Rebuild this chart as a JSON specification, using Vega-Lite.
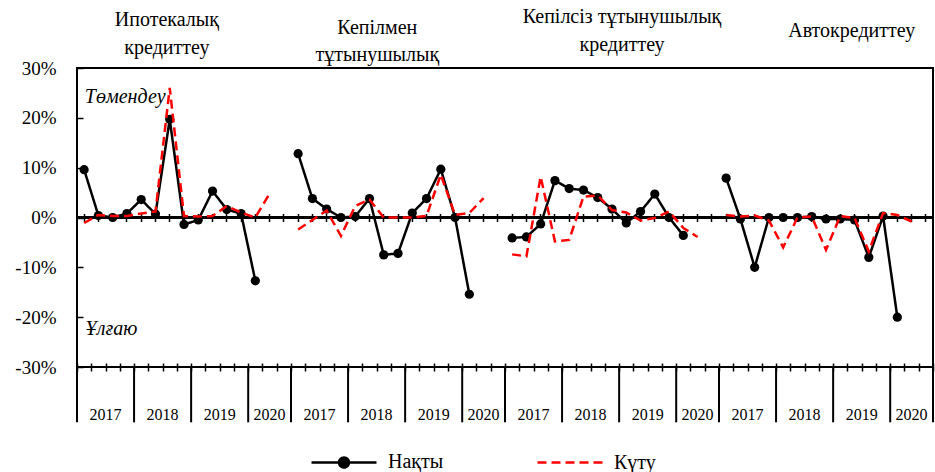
{
  "$schema": "https://vega.github.io/schema/vega-lite/v6.json",
  "width": 856,
  "height": 299,
  "autosize": {"type": "none"},
  "padding": {"left": 77, "top": 68, "right": 2, "bottom": 105},
  "background": "white",
  "config": {
    "view": {"stroke": "black", "strokeWidth": 2},
    "font": "Liberation Serif",
    "axis": {"grid": false, "labelFont": "Liberation Serif", "labelColor": "black", "tickColor": "black", "domainColor": "black"},
    "text": {"font": "Liberation Serif", "color": "black"}
  },
  "data": {"values": [
    {"g":"A","k":"A-2017Q1","s":"Нақты","v":9.6},{"g":"A","k":"A-2017Q2","s":"Нақты","v":0.4},{"g":"A","k":"A-2017Q3","s":"Нақты","v":0.0},{"g":"A","k":"A-2017Q4","s":"Нақты","v":0.8},
    {"g":"A","k":"A-2018Q1","s":"Нақты","v":3.6},{"g":"A","k":"A-2018Q2","s":"Нақты","v":0.7},{"g":"A","k":"A-2018Q3","s":"Нақты","v":19.7},{"g":"A","k":"A-2018Q4","s":"Нақты","v":-1.4},
    {"g":"A","k":"A-2019Q1","s":"Нақты","v":-0.5},{"g":"A","k":"A-2019Q2","s":"Нақты","v":5.3},{"g":"A","k":"A-2019Q3","s":"Нақты","v":1.6},{"g":"A","k":"A-2019Q4","s":"Нақты","v":0.8},
    {"g":"A","k":"A-2020Q1","s":"Нақты","v":-12.7},
    {"g":"A","k":"A-2017Q1","s":"Күту","v":-1.1},{"g":"A","k":"A-2017Q2","s":"Күту","v":0.5},{"g":"A","k":"A-2017Q3","s":"Күту","v":0.3},{"g":"A","k":"A-2017Q4","s":"Күту","v":0.3},
    {"g":"A","k":"A-2018Q1","s":"Күту","v":0.8},{"g":"A","k":"A-2018Q2","s":"Күту","v":1.2},{"g":"A","k":"A-2018Q3","s":"Күту","v":26.0},{"g":"A","k":"A-2018Q4","s":"Күту","v":0.3},
    {"g":"A","k":"A-2019Q1","s":"Күту","v":0.2},{"g":"A","k":"A-2019Q2","s":"Күту","v":0.3},{"g":"A","k":"A-2019Q3","s":"Күту","v":2.3},{"g":"A","k":"A-2019Q4","s":"Күту","v":1.0},
    {"g":"A","k":"A-2020Q1","s":"Күту","v":0.0},{"g":"A","k":"A-2020Q2","s":"Күту","v":4.8},
    {"g":"B","k":"B-2017Q1","s":"Нақты","v":12.8},{"g":"B","k":"B-2017Q2","s":"Нақты","v":3.8},{"g":"B","k":"B-2017Q3","s":"Нақты","v":1.7},{"g":"B","k":"B-2017Q4","s":"Нақты","v":0.0},
    {"g":"B","k":"B-2018Q1","s":"Нақты","v":0.2},{"g":"B","k":"B-2018Q2","s":"Нақты","v":3.8},{"g":"B","k":"B-2018Q3","s":"Нақты","v":-7.5},{"g":"B","k":"B-2018Q4","s":"Нақты","v":-7.2},
    {"g":"B","k":"B-2019Q1","s":"Нақты","v":0.9},{"g":"B","k":"B-2019Q2","s":"Нақты","v":3.8},{"g":"B","k":"B-2019Q3","s":"Нақты","v":9.7},{"g":"B","k":"B-2019Q4","s":"Нақты","v":0.0},
    {"g":"B","k":"B-2020Q1","s":"Нақты","v":-15.4},
    {"g":"B","k":"B-2017Q1","s":"Күту","v":-2.4},{"g":"B","k":"B-2017Q2","s":"Күту","v":-0.5},{"g":"B","k":"B-2017Q3","s":"Күту","v":1.4},{"g":"B","k":"B-2017Q4","s":"Күту","v":-3.7},
    {"g":"B","k":"B-2018Q1","s":"Күту","v":2.3},{"g":"B","k":"B-2018Q2","s":"Күту","v":3.6},{"g":"B","k":"B-2018Q3","s":"Күту","v":0.0},{"g":"B","k":"B-2018Q4","s":"Күту","v":0.0},
    {"g":"B","k":"B-2019Q1","s":"Күту","v":0.0},{"g":"B","k":"B-2019Q2","s":"Күту","v":0.3},{"g":"B","k":"B-2019Q3","s":"Күту","v":8.6},{"g":"B","k":"B-2019Q4","s":"Күту","v":0.5},
    {"g":"B","k":"B-2020Q1","s":"Күту","v":0.9},{"g":"B","k":"B-2020Q2","s":"Күту","v":3.9},
    {"g":"C","k":"C-2017Q1","s":"Нақты","v":-4.1},{"g":"C","k":"C-2017Q2","s":"Нақты","v":-3.9},{"g":"C","k":"C-2017Q3","s":"Нақты","v":-1.3},{"g":"C","k":"C-2017Q4","s":"Нақты","v":7.4},
    {"g":"C","k":"C-2018Q1","s":"Нақты","v":5.8},{"g":"C","k":"C-2018Q2","s":"Нақты","v":5.5},{"g":"C","k":"C-2018Q3","s":"Нақты","v":4.0},{"g":"C","k":"C-2018Q4","s":"Нақты","v":1.7},
    {"g":"C","k":"C-2019Q1","s":"Нақты","v":-1.1},{"g":"C","k":"C-2019Q2","s":"Нақты","v":1.2},{"g":"C","k":"C-2019Q3","s":"Нақты","v":4.7},{"g":"C","k":"C-2019Q4","s":"Нақты","v":0.0},
    {"g":"C","k":"C-2020Q1","s":"Нақты","v":-3.6},
    {"g":"C","k":"C-2017Q1","s":"Күту","v":-7.4},{"g":"C","k":"C-2017Q2","s":"Күту","v":-7.8},{"g":"C","k":"C-2017Q3","s":"Күту","v":8.2},{"g":"C","k":"C-2017Q4","s":"Күту","v":-4.8},
    {"g":"C","k":"C-2018Q1","s":"Күту","v":-4.5},{"g":"C","k":"C-2018Q2","s":"Күту","v":4.2},{"g":"C","k":"C-2018Q3","s":"Күту","v":4.4},{"g":"C","k":"C-2018Q4","s":"Күту","v":1.5},
    {"g":"C","k":"C-2019Q1","s":"Күту","v":1.0},{"g":"C","k":"C-2019Q2","s":"Күту","v":-0.6},{"g":"C","k":"C-2019Q3","s":"Күту","v":-0.1},{"g":"C","k":"C-2019Q4","s":"Күту","v":1.2},
    {"g":"C","k":"C-2020Q1","s":"Күту","v":-2.1},{"g":"C","k":"C-2020Q2","s":"Күту","v":-3.9},
    {"g":"D","k":"D-2017Q1","s":"Нақты","v":7.9},{"g":"D","k":"D-2017Q2","s":"Нақты","v":-0.3},{"g":"D","k":"D-2017Q3","s":"Нақты","v":-10.0},{"g":"D","k":"D-2017Q4","s":"Нақты","v":0.0},
    {"g":"D","k":"D-2018Q1","s":"Нақты","v":0.0},{"g":"D","k":"D-2018Q2","s":"Нақты","v":0.0},{"g":"D","k":"D-2018Q3","s":"Нақты","v":0.2},{"g":"D","k":"D-2018Q4","s":"Нақты","v":-0.3},
    {"g":"D","k":"D-2019Q1","s":"Нақты","v":-0.3},{"g":"D","k":"D-2019Q2","s":"Нақты","v":-0.5},{"g":"D","k":"D-2019Q3","s":"Нақты","v":-8.0},{"g":"D","k":"D-2019Q4","s":"Нақты","v":0.3},
    {"g":"D","k":"D-2020Q1","s":"Нақты","v":-20.0},
    {"g":"D","k":"D-2017Q1","s":"Күту","v":0.5},{"g":"D","k":"D-2017Q2","s":"Күту","v":0.2},{"g":"D","k":"D-2017Q3","s":"Күту","v":0.4},{"g":"D","k":"D-2017Q4","s":"Күту","v":-0.6},
    {"g":"D","k":"D-2018Q1","s":"Күту","v":-6.0},{"g":"D","k":"D-2018Q2","s":"Күту","v":0.0},{"g":"D","k":"D-2018Q3","s":"Күту","v":0.2},{"g":"D","k":"D-2018Q4","s":"Күту","v":-6.5},
    {"g":"D","k":"D-2019Q1","s":"Күту","v":0.3},{"g":"D","k":"D-2019Q2","s":"Күту","v":-0.1},{"g":"D","k":"D-2019Q3","s":"Күту","v":-6.8},{"g":"D","k":"D-2019Q4","s":"Күту","v":0.9},
    {"g":"D","k":"D-2020Q1","s":"Күту","v":0.5},{"g":"D","k":"D-2020Q2","s":"Күту","v":-0.8}
  ]},
  "layer": [
    {
      "mark": {"type": "rule", "color": "black", "strokeWidth": 2},
      "encoding": {"y": {"datum": 0, "type": "quantitative"}}
    },
    {
      "transform": [{"filter": "datum.s === 'Нақты'"}],
      "mark": {"type": "line", "strokeWidth": 2.5},
      "encoding": {
        "x": {
          "field": "k", "type": "ordinal",
          "scale": {"type": "band", "paddingInner": 0, "paddingOuter": 0, "domain": [
            "A-2017Q1","A-2017Q2","A-2017Q3","A-2017Q4","A-2018Q1","A-2018Q2","A-2018Q3","A-2018Q4","A-2019Q1","A-2019Q2","A-2019Q3","A-2019Q4","A-2020Q1","A-2020Q2","A-2020Q3",
            "B-2017Q1","B-2017Q2","B-2017Q3","B-2017Q4","B-2018Q1","B-2018Q2","B-2018Q3","B-2018Q4","B-2019Q1","B-2019Q2","B-2019Q3","B-2019Q4","B-2020Q1","B-2020Q2","B-2020Q3",
            "C-2017Q1","C-2017Q2","C-2017Q3","C-2017Q4","C-2018Q1","C-2018Q2","C-2018Q3","C-2018Q4","C-2019Q1","C-2019Q2","C-2019Q3","C-2019Q4","C-2020Q1","C-2020Q2","C-2020Q3",
            "D-2017Q1","D-2017Q2","D-2017Q3","D-2017Q4","D-2018Q1","D-2018Q2","D-2018Q3","D-2018Q4","D-2019Q1","D-2019Q2","D-2019Q3","D-2019Q4","D-2020Q1","D-2020Q2","D-2020Q3"
          ]},
          "axis": {"orient": "bottom", "title": null, "domain": false, "offset": -4, "tickBand": "extent", "tickSize": 8, "tickWidth": 1.5, "labels": false}
        },
        "y": {
          "field": "v", "type": "quantitative",
          "scale": {"domain": [-30, 30], "nice": false, "zero": false},
          "axis": {"title": null, "values": [-30,-20,-10,0,10,20,30], "domain": false, "offset": -6, "tickSize": 6, "tickWidth": 1.5, "labelPadding": 21, "labelFontSize": 19, "labelExpr": "datum.value + '%'"}
        },
        "color": {
          "field": "s", "type": "nominal",
          "scale": {"domain": ["Нақты", "Күту"], "range": ["black", "#ff0000"]},
          "legend": {
            "title": null, "orient": "none", "legendX": 233, "legendY": 360, "direction": "horizontal",
            "symbolType": "stroke", "symbolSize": 4225, "symbolStrokeWidth": 2.5,
            "labelFontSize": 20, "labelFont": "Liberation Serif", "labelColor": "black", "labelOffset": 10, "columnPadding": 88, "labelLimit": 300,
            "encode": {"symbols": {"update": {
              "shape": {"signal": "datum.value === 'Нақты' ? 'M-1,0L1,0M0.154,0A0.154,0.154,0,1,1,-0.154,0A0.154,0.154,0,1,1,0.154,0Z' : 'stroke'"},
              "fill": {"signal": "datum.value === 'Нақты' ? 'black' : 'transparent'"},
              "fillOpacity": {"value": 1}
            }}}
          }
        },
        "strokeDash": {
          "field": "s", "type": "nominal",
          "scale": {"domain": ["Нақты", "Күту"], "range": [[1, 0], [9, 5]]},
          "legend": {
            "title": null, "orient": "none", "legendX": 233, "legendY": 360, "direction": "horizontal",
            "symbolType": "stroke", "symbolSize": 4225, "symbolStrokeWidth": 2.5,
            "labelFontSize": 20, "labelFont": "Liberation Serif", "labelColor": "black", "labelOffset": 10, "columnPadding": 88, "labelLimit": 300,
            "encode": {"symbols": {"update": {
              "shape": {"signal": "datum.value === 'Нақты' ? 'M-1,0L1,0M0.154,0A0.154,0.154,0,1,1,-0.154,0A0.154,0.154,0,1,1,0.154,0Z' : 'stroke'"},
              "fill": {"signal": "datum.value === 'Нақты' ? 'black' : 'transparent'"},
              "fillOpacity": {"value": 1}
            }}}
          }
        },
        "detail": {"field": "g", "type": "nominal"}
      }
    },
    {
      "transform": [{"filter": "datum.s === 'Нақты'"}],
      "mark": {"type": "point", "filled": true, "size": 85, "color": "black", "opacity": 1},
      "encoding": {
        "x": {"field": "k", "type": "ordinal", "axis": {"orient": "top", "title": null, "domain": false, "labels": false, "offset": -153.5, "tickSize": 8, "tickWidth": 1.5}},
        "y": {"field": "v", "type": "quantitative"}
      }
    },
    {
      "transform": [{"filter": "datum.s === 'Күту'"}],
      "mark": {"type": "line", "strokeWidth": 2.5},
      "encoding": {
        "x": {"field": "k", "type": "ordinal", "axis": null},
        "y": {"field": "v", "type": "quantitative"},
        "color": {"field": "s", "type": "nominal"},
        "strokeDash": {"field": "s", "type": "nominal"},
        "detail": {"field": "g", "type": "nominal"}
      }
    },
    {
      "data": {"values": [
        {"k":"A-2017Q1"},{"k":"A-2018Q1"},{"k":"A-2019Q1"},{"k":"A-2020Q1"},
        {"k":"B-2017Q1"},{"k":"B-2018Q1"},{"k":"B-2019Q1"},{"k":"B-2020Q1"},
        {"k":"C-2017Q1"},{"k":"C-2018Q1"},{"k":"C-2019Q1"},{"k":"C-2020Q1"},
        {"k":"D-2017Q1"},{"k":"D-2018Q1"},{"k":"D-2019Q1"},{"k":"D-2020Q1"}
      ]},
      "mark": {"type": "rule", "color": "black", "strokeWidth": 2},
      "encoding": {
        "x": {"field": "k", "type": "ordinal", "bandPosition": 0, "axis": null},
        "y": {"datum": -30, "type": "quantitative"},
        "y2": {"datum": -41.1}
      }
    },
    {
      "data": {"values": [{"k":"D-2020Q3"}]},
      "mark": {"type": "rule", "color": "black", "strokeWidth": 2},
      "encoding": {
        "x": {"field": "k", "type": "ordinal", "bandPosition": 1, "axis": null},
        "y": {"datum": -30, "type": "quantitative"},
        "y2": {"datum": -41.1}
      }
    },
    {
      "data": {"values": [
        {"k":"A-2017Q3","t":"2017"},{"k":"A-2018Q3","t":"2018"},{"k":"A-2019Q3","t":"2019"},
        {"k":"B-2017Q3","t":"2017"},{"k":"B-2018Q3","t":"2018"},{"k":"B-2019Q3","t":"2019"},
        {"k":"C-2017Q3","t":"2017"},{"k":"C-2018Q3","t":"2018"},{"k":"C-2019Q3","t":"2019"},
        {"k":"D-2017Q3","t":"2017"},{"k":"D-2018Q3","t":"2018"},{"k":"D-2019Q3","t":"2019"}
      ]},
      "mark": {"type": "text", "fontSize": 16, "align": "center", "baseline": "alphabetic"},
      "encoding": {
        "x": {"field": "k", "type": "ordinal", "bandPosition": 0, "axis": null},
        "y": {"datum": -40.6, "type": "quantitative"},
        "text": {"field": "t"}
      }
    },
    {
      "data": {"values": [
        {"k":"A-2020Q2","t":"2020"},{"k":"B-2020Q2","t":"2020"},{"k":"C-2020Q2","t":"2020"},{"k":"D-2020Q2","t":"2020"}
      ]},
      "mark": {"type": "text", "fontSize": 16, "align": "center", "baseline": "alphabetic"},
      "encoding": {
        "x": {"field": "k", "type": "ordinal", "bandPosition": 0.5, "axis": null},
        "y": {"datum": -40.6, "type": "quantitative"},
        "text": {"field": "t"}
      }
    },
    {
      "data": {"values": [{"t": "Ипотекалық\nкредиттеу"}]},
      "mark": {"type": "text", "fontSize": 20, "lineHeight": 28, "lineBreak": "\n", "align": "center", "baseline": "middle"},
      "encoding": {"x": {"datum": "A-2018Q3", "type": "ordinal", "bandPosition": 0.3, "axis": null}, "y": {"datum": 39.6, "type": "quantitative"}, "text": {"field": "t"}}
    },
    {
      "data": {"values": [{"t": "Кепілмен\nтұтынушылық"}]},
      "mark": {"type": "text", "fontSize": 20, "lineHeight": 27, "lineBreak": "\n", "align": "center", "baseline": "middle"},
      "encoding": {"x": {"datum": "B-2018Q3", "type": "ordinal", "bandPosition": 0.05, "axis": null}, "y": {"datum": 38.0, "type": "quantitative"}, "text": {"field": "t"}}
    },
    {
      "data": {"values": [{"t": "Кепілсіз тұтынушылық\nкредиттеу"}]},
      "mark": {"type": "text", "fontSize": 20, "lineHeight": 28, "lineBreak": "\n", "align": "center", "baseline": "middle"},
      "encoding": {"x": {"datum": "C-2019Q1", "type": "ordinal", "bandPosition": 0.2, "axis": null}, "y": {"datum": 40.2, "type": "quantitative"}, "text": {"field": "t"}}
    },
    {
      "data": {"values": [{"t": "Автокредиттеу"}]},
      "mark": {"type": "text", "fontSize": 20, "align": "center", "baseline": "middle"},
      "encoding": {"x": {"datum": "D-2019Q2", "type": "ordinal", "bandPosition": 0.3, "axis": null}, "y": {"datum": 37.4, "type": "quantitative"}, "text": {"field": "t"}}
    },
    {
      "data": {"values": [{"t": "Төмендеу"}]},
      "mark": {"type": "text", "fontSize": 20, "fontStyle": "italic", "align": "left", "baseline": "middle"},
      "encoding": {"x": {"datum": "A-2017Q1", "type": "ordinal", "bandPosition": 0.55, "axis": null}, "y": {"datum": 24.2, "type": "quantitative"}, "text": {"field": "t"}}
    },
    {
      "data": {"values": [{"t": "Ұлғаю"}]},
      "mark": {"type": "text", "fontSize": 20, "fontStyle": "italic", "align": "left", "baseline": "middle"},
      "encoding": {"x": {"datum": "A-2017Q1", "type": "ordinal", "bandPosition": 0.6, "axis": null}, "y": {"datum": -22.4, "type": "quantitative"}, "text": {"field": "t"}}
    }
  ],
  "resolve": {"axis": {"x": "independent"}}
}
